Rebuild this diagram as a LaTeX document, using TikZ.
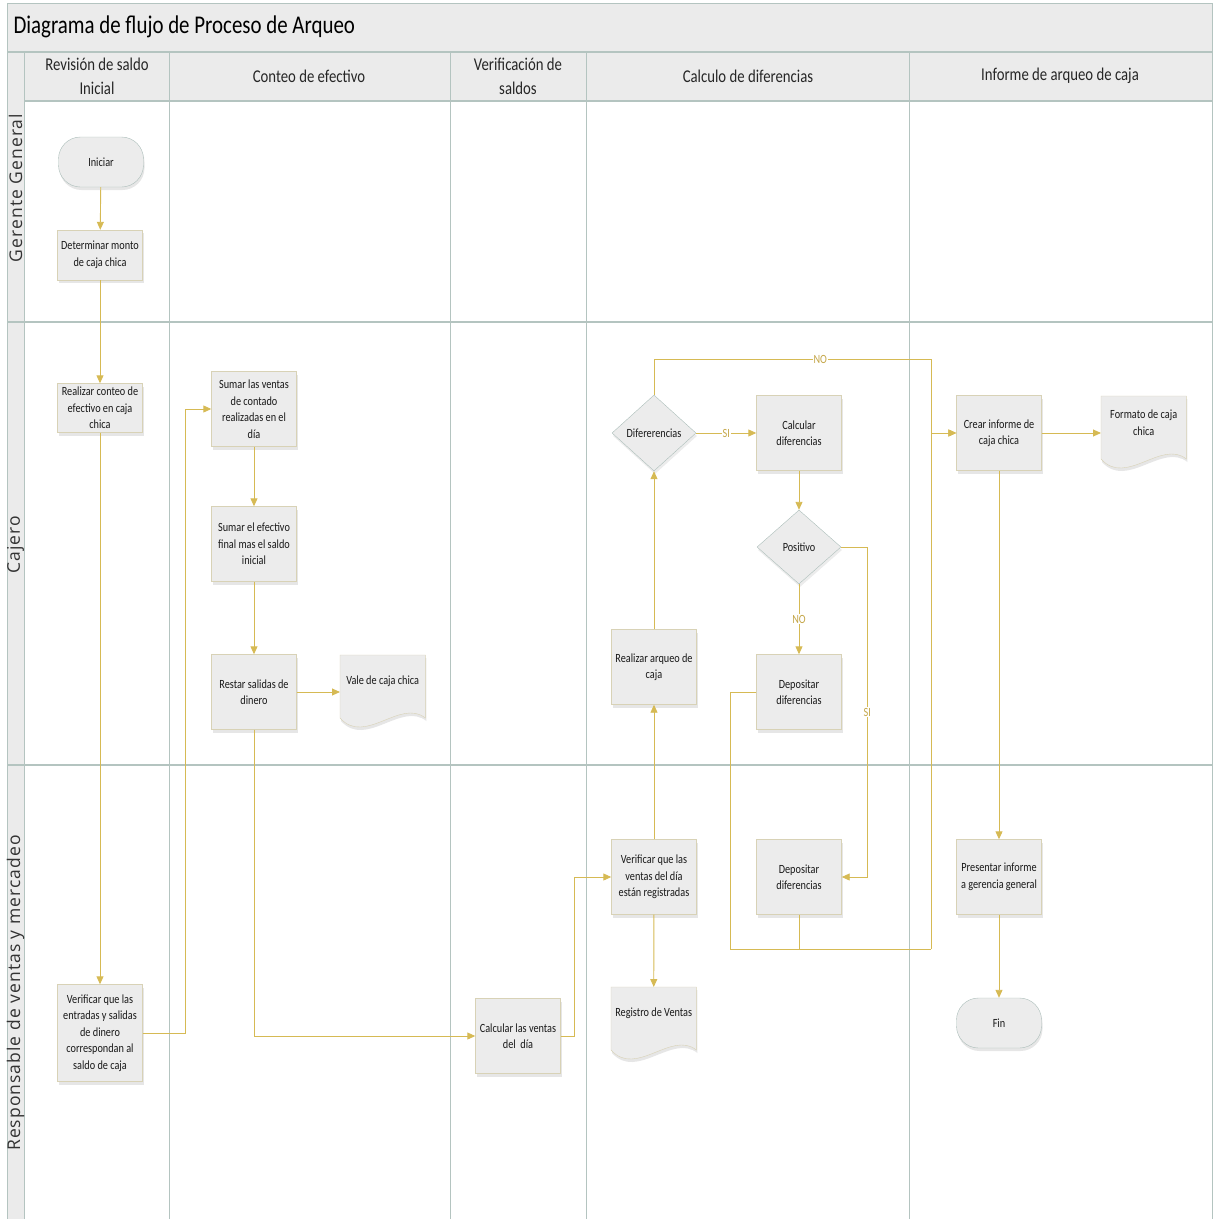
\documentclass[tikz,border=0pt]{standalone}
\usepackage{fontspec}
\setmainfont{Carlito}[FakeStretch=0.82]
\newfontfamily\lanefont{Open Sans}[LetterSpace=6]
\usepackage{tikz}
\usetikzlibrary{positioning}
\usetikzlibrary{shapes.geometric,arrows.meta,shadows,backgrounds}

\definecolor{flowgold}{RGB}{214,186,84}
\definecolor{lbltext}{RGB}{196,166,72}
\definecolor{lanegrid}{RGB}{180,196,192}
\definecolor{boxfill}{RGB}{236,236,236}
\definecolor{boxedge}{RGB}{216,210,182}
\definecolor{termedge}{RGB}{172,190,186}
\definecolor{hdrfill}{RGB}{235,235,235}

% outline of a document symbol hanging from a node's top edge
\newcommand{\docpath}[1]{(#1.north west) -- (#1.north east) -- ([yshift=-63pt]#1.north east)
  .. controls ([xshift=-25pt,yshift=-43pt]#1.north east) and ([xshift=25pt,yshift=-91pt]#1.north west)
  .. ([yshift=-63pt]#1.north west) -- cycle}

\begin{document}
\begin{tikzpicture}[
    x=1pt, y=-1pt,
    >=Stealth,
    nodefont/.style={font=\fontsize{12.5}{16.5}\selectfont, text=black!90},
    process/.style={rectangle, draw=boxedge, fill=boxfill, nodefont, align=center,
      minimum width=85pt, minimum height=75pt, inner sep=2pt,
      drop shadow={shadow xshift=1pt, shadow yshift=-3pt, opacity=0.2}},
    terminal/.style={process, draw=termedge, rounded corners=22pt, minimum height=50pt},
    decision/.style={diamond, draw=termedge, fill=boxfill, nodefont, inner sep=0pt,
      minimum width=84pt, minimum height=76pt,
      drop shadow={shadow xshift=1pt, shadow yshift=-3pt, opacity=0.15}},
    docnode/.style={rectangle, nodefont, align=center, minimum width=85pt,
      minimum height=53pt, inner sep=2pt, anchor=north west},
    flow/.style={draw=flowgold, line width=0.9pt, -{Triangle[length=8pt,width=7pt]}},
    lbl/.style={fill=white, inner sep=1pt, text=lbltext, font=\fontsize{12.5}{12.5}\selectfont},
    header/.style={font=\fontsize{18}{24}\selectfont, align=center, text=black!85},
    lane/.style={rotate=90, font=\lanefont\fontsize{17.5}{17.5}\selectfont, text=black!80}
]
\useasboundingbox (0,0) rectangle (1214,1219);

% swimlane frame
\fill[hdrfill] (7,3) rectangle (1212,52);
\fill[hdrfill] (24,52) rectangle (1212,101);
\fill[hdrfill] (7,52) rectangle (24,1219);
\draw[lanegrid, line width=1pt] (7,3) rectangle (1212,1219);
\draw[lanegrid, line width=1.2pt] (7,52) -- (1212,52);
\draw[lanegrid, line width=1.2pt] (24,101) -- (1212,101);
\draw[lanegrid, line width=1.5pt] (7,322) -- (1212,322);
\draw[lanegrid, line width=1.5pt] (7,765) -- (1212,765);
\foreach \x in {24,169,450,586,909}
  \draw[lanegrid, line width=1pt] (\x,52) -- (\x,1219);

\node (title) [anchor=west, font=\fontsize{25.5}{30}\selectfont] at (10,27) {Diagrama de flujo de Proceso de Arqueo};

\node (colRev) [header] at (97,76) {Revisión de saldo\\Inicial};
\node (colConteo) [header] at (309,76) {Conteo de efectivo};
\node (colVerif) [header] at (518,76) {Verificación de\\saldos};
\node (colCalc) [header] at (748,76) {Calculo de diferencias};
\node (colInforme) [header] at (1060,76) {Informe de arqueo de caja};

\node (laneGerente) [lane] at (15.5,188) {Gerente General};
\node (laneCajero) [lane] at (15.5,545) {Cajero};
\node (laneVentas) [lane] at (15.5,993) {Responsable de ventas y mercadeo};

% revision de saldo inicial
\node (inicio) [terminal] at (101,162) {Iniciar};
\node (determinar) [process, minimum height=50pt] at (100,255) {Determinar monto\\de caja chica};
\node (conteo) [process, minimum height=49pt] at (100,408) {Realizar conteo de\\efectivo en caja\\chica};
\node (verifES) [process, minimum height=97pt] at (100,1033) {Verificar que las\\entradas y salidas\\de dinero\\correspondan al\\saldo de caja};

% conteo de efectivo
\node (sumarVentas) [process] at (254,409) {Sumar las ventas\\de contado\\realizadas en el\\día};
\node (sumarEfectivo) [process] at (254,544) {Sumar el efectivo\\final mas el saldo\\inicial};
\node (restar) [process] at (254,692) {Restar salidas de\\dinero};
\node (vale) [docnode] at (340,655) {Vale de caja chica};

% verificacion de saldos
\node (calcVentas) [process] at (518,1036) {Calcular las ventas\\del~~día};

% calculo de diferencias
\node (verifVentas) [process] at (654,877) {Verificar que las\\ventas del día\\están registradas};
\node (registro) [docnode] at (611,987) {Registro de Ventas};
\node (arqueo) [process] at (654,667) {Realizar arqueo de\\caja};
\node (diferencias) [decision] at (654,433) {Difererencias};
\node (calcDif) [process] at (799,433) {Calcular\\diferencias};
\node (positivo) [decision, minimum height=74pt] at (799,547) {Positivo};
\node (depCaj) [process] at (799,692) {Depositar\\diferencias};
\node (depResp) [process] at (799,877) {Depositar\\diferencias};

% informe de arqueo
\node (crear) [process] at (999,433) {Crear informe de\\caja chica};
\node (formato) [docnode] at (1101,396) {Formato de caja\\chica};
\node (presentar) [process] at (999,877) {Presentar informe\\a gerencia general};
\node (fin) [terminal] at (999,1023) {Fin};

% document symbols behind their text
\begin{scope}[on background layer]
\foreach \d in {vale,registro,formato}
  \filldraw[boxfill, draw=boxedge, drop shadow={shadow xshift=1pt, shadow yshift=-3pt, opacity=0.2}] \docpath{\d};
\end{scope}

\coordinate (noTurn) at (931,359);
\coordinate (merge) at (931,949);

% connectors
\draw[flow] (inicio) -- (determinar);
\draw[flow] (determinar) -- (conteo);
\draw[flow] (conteo) -- (verifES);
\draw[flow] (verifES.east) -- ++(43,0) |- (sumarVentas.west);
\draw[flow] (sumarVentas) -- (sumarEfectivo);
\draw[flow] (sumarEfectivo) -- (restar);
\draw[flow] (restar.east) -- (restar.east -| vale.west);
\draw[flow] (restar.south) |- (calcVentas.west);
\draw[flow] (calcVentas.east) -- ++(14,0) |- (verifVentas.west);
\draw[flow] (verifVentas) -- (registro);
\draw[flow] (verifVentas) -- (arqueo);
\draw[flow] (arqueo) -- (diferencias);
\draw[flow] (diferencias) -- node[lbl]{SI} (calcDif);
\draw[flow] (calcDif) -- (positivo);
\draw[flow] (positivo) -- node[lbl]{NO} (depCaj);
\draw[flow] (positivo.east) -- ++(26,0) |- node[lbl, pos=0.25]{SI} (depResp.east);
\draw[flow, -] (depCaj.west) -- ++(-26,0) |- (merge);
\draw[flow, -] (depResp.south) -- (depResp.south |- merge);
\draw[flow] (merge) |- (crear.west);
\draw[flow] (diferencias.north) |- node[lbl, pos=0.8]{NO} (noTurn) |- (crear.west);
\draw[flow] (crear.east) -- (crear.east -| formato.west);
\draw[flow] (crear) -- (presentar);
\draw[flow] (presentar) -- (fin);

\end{tikzpicture}
\end{document}
